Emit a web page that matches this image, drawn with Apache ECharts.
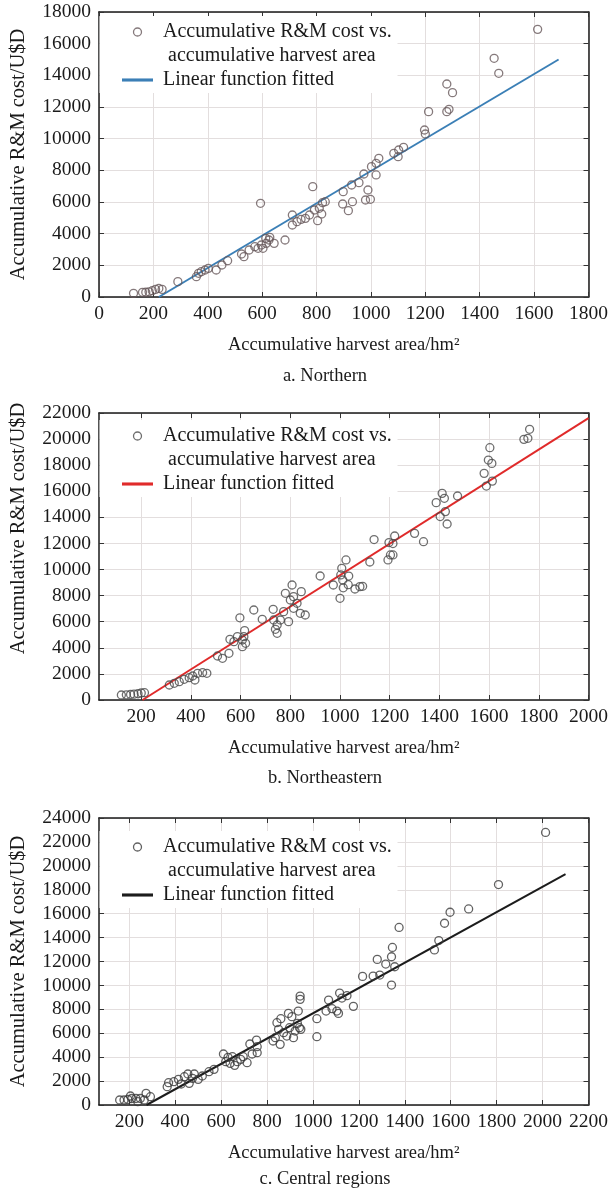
<!DOCTYPE html>
<html>
<head>
<meta charset="utf-8">
<script src="https://cdn.jsdelivr.net/npm/echarts@6/dist/echarts.min.js"></script>
<style>
html,body{margin:0;padding:0;background:#fff;}
#chart{width:611px;height:1193px;}
</style>
</head>
<body>
<div id="chart"></div>
<script>
// ---------- data ----------
const northernArea = [127,160,172,184,196,208,220,232,290,358,366,376,390,402,431,452,473,524,533,552,573,585,597,603,615,625,628,613,594,644,684,711,711,728,743,759,774,786,792,804,810,819,822,832,896,898,917,929,932,956,974,980,989,998,1002,1019,1019,1029,1084,1100,1102,1120,1197,1200,1212,1279,1300,1279,1287,1453,1470,1613];
const northernCost = [230,295,300,330,400,480,540,480,970,1284,1495,1600,1705,1810,1705,2020,2294,2716,2548,2968,3179,3074,3284,3074,3389,3600,3768,3705,5916,3389,3600,4547,5179,4758,4905,4968,5179,6969,5495,4821,5600,5242,5958,6021,5874,6653,5453,7075,6021,7222,7770,6127,6758,6169,8233,7707,8444,8760,9074,8863,9285,9454,10548,10295,11706,13453,12906,11706,11854,15074,14127,16905];
const northernFitArea = [220, 1690];
const northernFitCost = [0, 15000];

const northeastArea = [120,140,157,171,187,200,213,313,333,353,373,393,407,416,427,447,464,507,527,553,557,573,587,597,607,607,613,616,620,653,687,731,733,740,747,747,760,773,780,793,800,807,813,813,827,840,844,860,920,973,1000,1003,1007,1011,1013,1024,1035,1033,1060,1080,1091,1120,1137,1193,1197,1203,1213,1213,1220,1300,1336,1387,1403,1411,1420,1424,1431,1473,1580,1589,1597,1603,1611,1613,1740,1756,1763];
const northeastCost = [383,400,420,450,480,536,560,1150,1278,1405,1584,1712,1840,1533,2044,2095,2044,3373,3194,3577,4651,4472,4856,6300,4600,4088,4855,5316,4344,6900,6184,6951,6133,5418,5111,5750,6133,6772,8177,6005,7666,8816,7922,7027,7411,6644,8305,6517,9507,8816,7794,9584,10095,9200,8600,10734,9500,8841,8510,8688,8714,10580,12300,10734,12070,11121,11990,11121,12570,12775,12136,15127,14060,15840,15459,14440,13493,15638,17372,16400,18394,19340,18137,16780,19980,20058,20748];
const northeastFitArea = [205, 2000];
const northeastFitCost = [0, 21600];

const centralArea = [158,177,194,211,229,248,265,273,292,237,205,365,371,394,414,426,440,455,461,475,483,500,518,547,569,610,620,630,639,649,659,670,685,696,713,725,735,754,757,757,826,836,843,850,857,860,872,886,893,898,908,915,922,932,936,941,944,944,947,1017,1017,1068,1057,1083,1104,1111,1116,1126,1148,1176,1216,1262,1280,1291,1317,1342,1342,1346,1356,1375,1529,1548,1573,1597,1678,1808,2013];
const centralCost = [418,418,460,543,543,543,418,975,697,278,752,1533,1867,1950,2145,1755,2369,2592,1811,2229,2592,2145,2424,2787,2982,4264,3622,3985,3483,4041,3316,3622,3817,4041,3538,5099,4264,5433,4876,4376,5350,5628,6882,6325,5071,7216,6046,5767,7661,6464,7383,5628,6186,6826,7857,6464,8833,9112,6325,7216,5712,8777,7857,8052,7857,7661,9363,8945,9140,8248,10754,10782,12175,10866,11785,10029,12398,13178,11562,14850,12971,13750,15199,16119,16397,18432,22794];
const centralFitArea = [275, 2100];
const centralFitCost = [0, 19300];

const xTicksA = [0,200,400,600,800,1000,1200,1400,1600,1800];
const xTicksB = [200,400,600,800,1000,1200,1400,1600,1800,2000];
const xTicksC = [200,400,600,800,1000,1200,1400,1600,1800,2000,2200];
const yTicksA = [0,2000,4000,6000,8000,10000,12000,14000,16000,18000];
const yTicksB = [0,2000,4000,6000,8000,10000,12000,14000,16000,18000,20000,22000];
const yTicksC = [0,2000,4000,6000,8000,10000,12000,14000,16000,18000,20000,22000,24000];

const xName = 'Accumulative harvest area/hm\u00B2';
const yName = 'Accumulative R&M cost/U$D';
const scatterLabel = 'Accumulative R&M cost vs.\n accumulative harvest area';
const fitLabel = 'Linear function fitted';
const captions = ['a. Northern', 'b. Northeastern', 'c. Central regions'];

// ---------- helpers ----------
const FONT = '"Liberation Serif", "Times New Roman", serif';
const zip = (a, b) => a.map((v, i) => [v, b[i]]);
const plain = v => String(v);

const panels = [
  {top: 12, height: 285, xMin: 0, xMax: 1800, yMax: 18000, xTicks: xTicksA, yTicks: yTicksA,
   area: northernArea, cost: northernCost, fitX: northernFitArea, fitY: northernFitCost,
   lineColor: '#3b7fb6', dotColor: '#66585a', legendTop: -4, yNamePad: [0, 0, 0, 0]},
  {top: 413, height: 287, xMin: 30, xMax: 2000, yMax: 22000, xTicks: xTicksB, yTicks: yTicksB,
   area: northeastArea, cost: northeastCost, fitX: northeastFitArea, fitY: northeastFitCost,
   lineColor: '#e02a2a', dotColor: '#4a4a4a', legendTop: 400, yNamePad: [0, 0, 0, 56]},
  {top: 818, height: 287, xMin: 68, xMax: 2200, yMax: 24000, xTicks: xTicksC, yTicks: yTicksC,
   area: centralArea, cost: centralCost, fitX: centralFitArea, fitY: centralFitCost,
   lineColor: '#1c1c1c', dotColor: '#3a3a3a', legendTop: 811, yNamePad: [0, 0, 0, 0]}
];

const grid = [], xAxis = [], yAxis = [], series = [], legend = [], graphic = [];
const axisLineStyle = {color: '#1a1a1a', width: 1.5};
const tickStyle = {color: '#333', width: 1};
const splitStyle = {color: '#e3dede', width: 1};

panels.forEach((p, i) => {
  grid.push({left: 98, top: p.top, width: 492, height: p.height, containLabel: false});
  xAxis.push({
    type: 'value', gridIndex: i, min: p.xMin, max: p.xMax, position: 'bottom',
    name: xName, nameLocation: 'middle', nameGap: 39,
    nameTextStyle: {fontFamily: FONT, fontSize: 18.5, color: '#1a1a1a'},
    axisLine: {show: true, onZero: false, lineStyle: axisLineStyle},
    axisTick: {show: true, inside: true, length: 5, customValues: p.xTicks, lineStyle: tickStyle},
    axisLabel: {show: true, customValues: p.xTicks, formatter: plain, margin: 7, fontFamily: FONT, fontSize: 19.5, color: '#1a1a1a'},
    splitLine: {show: true, lineStyle: splitStyle}
  });
  xAxis.push({
    type: 'value', gridIndex: i, min: p.xMin, max: p.xMax, position: 'top',
    axisLine: {show: true, onZero: false, lineStyle: axisLineStyle},
    axisTick: {show: true, inside: true, length: 5, customValues: p.xTicks, lineStyle: tickStyle},
    axisLabel: {show: false}, splitLine: {show: false}
  });
  yAxis.push({
    type: 'value', gridIndex: i, min: 0, max: p.yMax, position: 'left',
    name: yName, nameLocation: 'middle', nameGap: 70,
    nameTextStyle: {fontFamily: FONT, fontSize: 20.5, color: '#1a1a1a', padding: p.yNamePad},
    axisLine: {show: true, onZero: false, lineStyle: axisLineStyle},
    axisTick: {show: true, inside: true, length: 5, customValues: p.yTicks, lineStyle: tickStyle},
    axisLabel: {show: true, customValues: p.yTicks, formatter: plain, margin: 8, fontFamily: FONT, fontSize: 19.5, color: '#1a1a1a'},
    splitLine: {show: true, lineStyle: splitStyle}
  });
  yAxis.push({
    type: 'value', gridIndex: i, min: 0, max: p.yMax, position: 'right',
    axisLine: {show: true, onZero: false, lineStyle: axisLineStyle},
    axisTick: {show: true, inside: true, length: 5, customValues: p.yTicks, lineStyle: tickStyle},
    axisLabel: {show: false}, splitLine: {show: false}
  });

  const sName = 'p' + i + '-scatter';
  const fName = 'p' + i + '-fit';
  series.push({
    name: sName, type: 'scatter', xAxisIndex: 2 * i, yAxisIndex: 2 * i,
    data: zip(p.area, p.cost), symbol: 'circle', symbolSize: 8, z: 3,
    itemStyle: {color: 'rgba(255,255,255,0)', borderColor: p.dotColor, borderWidth: 1.3},
    emphasis: {disabled: true}
  });
  series.push({
    name: fName, type: 'line', xAxisIndex: 2 * i, yAxisIndex: 2 * i,
    data: zip(p.fitX, p.fitY), symbol: 'none', z: 3,
    lineStyle: {color: p.lineColor, width: 2},
    itemStyle: {color: p.lineColor},
    emphasis: {disabled: true}
  });
  legend.push({
    orient: 'vertical', left: 122, top: p.legendTop, padding: 0, itemGap: 0,
    itemWidth: 31, itemHeight: 8, selectedMode: false, z: 5,
    data: [
      {name: sName, icon: 'circle', itemStyle: {color: 'rgba(255,255,255,0)', borderColor: p.dotColor, borderWidth: 1.3}},
      {name: fName, icon: 'path://M0,0H40V4H0Z', itemStyle: {color: p.lineColor, borderWidth: 0}}
    ],
    formatter: n => n.endsWith('scatter') ? '\n' + scatterLabel : fitLabel,
    textStyle: {fontFamily: FONT, fontSize: 20, lineHeight: 24, color: '#1a1a1a', padding: [0, 0, 0, 5]}
  });
  const boxTop = p.legendTop + 20;
  graphic.push({
    type: 'rect', z: 1, silent: true,
    shape: {x: 99.5, y: boxTop, width: 298, height: 77},
    style: {fill: '#ffffff'}
  });
});

const captionY = [376, 778, 1179];
captions.forEach((c, i) => {
  graphic.push({
    type: 'text', x: 325, y: captionY[i], z: 5, silent: true,
    style: {text: c, fontFamily: FONT, fontSize: 18.5, fill: '#1a1a1a', align: 'center', verticalAlign: 'middle'}
  });
});

const chart = echarts.init(document.getElementById('chart'), null, {renderer: 'canvas'});
chart.setOption({
  animation: false,
  backgroundColor: '#ffffff',
  grid, xAxis, yAxis, series, legend, graphic
});
</script>
</body>
</html>
